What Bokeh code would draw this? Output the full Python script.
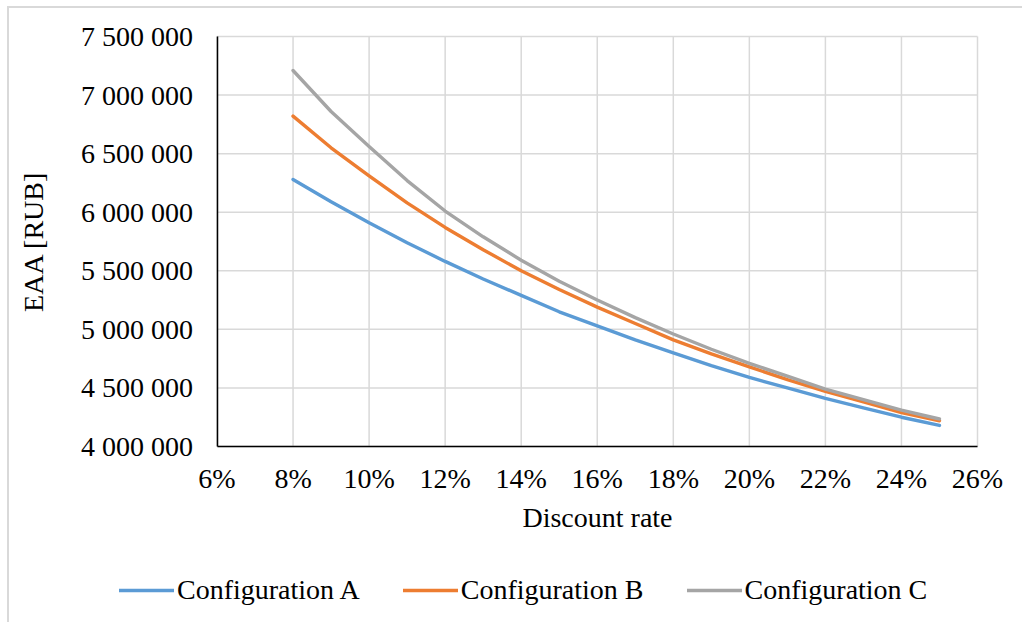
from bokeh.plotting import figure
from bokeh.models import Range1d, FixedTicker, Legend, LegendItem, LinearAxis
from bokeh.layouts import column
from bokeh.embed import file_html
from bokeh.resources import INLINE

# Data (discount rate in %, EAA in RUB)
rates = [8, 9, 10, 11, 12, 13, 14, 15, 16, 17, 18, 19, 20, 21, 22, 23, 24, 25]
config_a = [6280000, 6090000, 5910000, 5740000, 5580000, 5430000, 5290000, 5150000, 5030000,
            4910000, 4800000, 4690000, 4590000, 4500000, 4410000, 4330000, 4250000, 4180000]
config_b = [6820000, 6550000, 6310000, 6080000, 5870000, 5680000, 5500000, 5340000, 5190000,
            5050000, 4910000, 4790000, 4680000, 4570000, 4470000, 4380000, 4290000, 4220000]
config_c = [7210000, 6860000, 6560000, 6270000, 6010000, 5790000, 5590000, 5410000, 5250000,
            5100000, 4960000, 4830000, 4710000, 4600000, 4490000, 4400000, 4310000, 4235000]
series_names = ["Configuration A", "Configuration B", "Configuration C"]
series_colors = ["#5B9BD5", "#ED7D31", "#A5A5A5"]

x_ticks = [6, 8, 10, 12, 14, 16, 18, 20, 22, 24, 26]
x_tick_labels = ["6%", "8%", "10%", "12%", "14%", "16%", "18%", "20%", "22%", "24%", "26%"]
y_ticks = [4000000, 4500000, 5000000, 5500000, 6000000, 6500000, 7000000, 7500000]
y_tick_labels = ["4 000 000", "4 500 000", "5 000 000", "5 500 000", "6 000 000",
                 "6 500 000", "7 000 000", "7 500 000"]

FONT = "Liberation Serif"
FS = "28px"
LW = 3.4

W, H = 1013, 614
# plot-area placement inside the canvas (pixels)
PX0, PX1, PY0, PY1 = 207.5, 968.0, 28.0, 438.0
xmin, xmax = x_ticks[0], x_ticks[-1]
ymin, ymax = y_ticks[0], y_ticks[-1]
sx = (xmax - xmin) / (PX1 - PX0)
sy = (ymax - ymin) / (PY1 - PY0)
x_range = Range1d(xmin - PX0 * sx, xmax + (W - PX1) * sx)
y_range = Range1d(ymin - (H - PY1) * sy, ymax + PY0 * sy)

p = figure(width=W, height=H, output_backend="svg", toolbar_location=None,
           x_range=x_range, y_range=y_range, x_axis_type=None, y_axis_type=None,
           min_border_left=0, min_border_right=0, min_border_top=0, min_border_bottom=0)
p.outline_line_color = None
p.background_fill_color = "white"
p.border_fill_color = "white"
p.grid.visible = False

# gridlines
p.segment(x0=x_ticks, y0=[ymin] * len(x_ticks), x1=x_ticks, y1=[ymax] * len(x_ticks),
          line_color="#d9d9d9", line_width=1.5)
p.segment(x0=[xmin] * len(y_ticks), y0=y_ticks, x1=[xmax] * len(y_ticks), y1=y_ticks,
          line_color="#d9d9d9", line_width=1.5)

xaxis = LinearAxis(fixed_location=ymin, bounds=(xmin, xmax), axis_label="Discount rate")
yaxis = LinearAxis(fixed_location=xmin, bounds=(ymin, ymax), axis_label="EAA [RUB]")
for ax, ticks, labels in ((xaxis, x_ticks, x_tick_labels), (yaxis, y_ticks, y_tick_labels)):
    ax.ticker = FixedTicker(ticks=ticks)
    ax.major_label_overrides = {t: l for t, l in zip(ticks, labels)}
    ax.major_tick_out = 0
    ax.major_tick_in = 0
    ax.minor_tick_out = 0
    ax.minor_tick_in = 0
    ax.axis_line_color = "black"
    ax.axis_line_width = 1.5
    ax.major_label_text_font = FONT
    ax.major_label_text_font_size = FS
    ax.major_label_text_color = "black"
    ax.axis_label_text_font = FONT
    ax.axis_label_text_font_size = FS
    ax.axis_label_text_font_style = "normal"
    ax.axis_label_text_color = "black"
xaxis.major_label_standoff = 16
xaxis.axis_label_standoff = 5
yaxis.major_label_standoff = 24
yaxis.axis_label_standoff = 30
p.add_layout(xaxis, "below")
p.add_layout(yaxis, "left")

items = []
for ys, name, col in zip((config_a, config_b, config_c), series_names, series_colors):
    r = p.line(rates, ys, line_color=col, line_width=LW, line_join="round", line_cap="round")
    items.append(LegendItem(label=name, renderers=[r]))

legend = Legend(items=items, orientation="horizontal", location=(110, 16),
                glyph_width=55, glyph_height=28, label_height=28, label_standoff=3,
                spacing=43, padding=0, margin=0,
                label_text_font=FONT, label_text_font_size=FS, label_text_color="black",
                border_line_color=None, background_fill_alpha=0)
p.add_layout(legend, "center")

layout = column(p, styles={"margin-left": "7px", "margin-top": "6px",
                           "border-left": "2px solid #d9d9d9", "border-top": "2px solid #d9d9d9"})

open("out.html", "w").write(file_html(layout, INLINE))
